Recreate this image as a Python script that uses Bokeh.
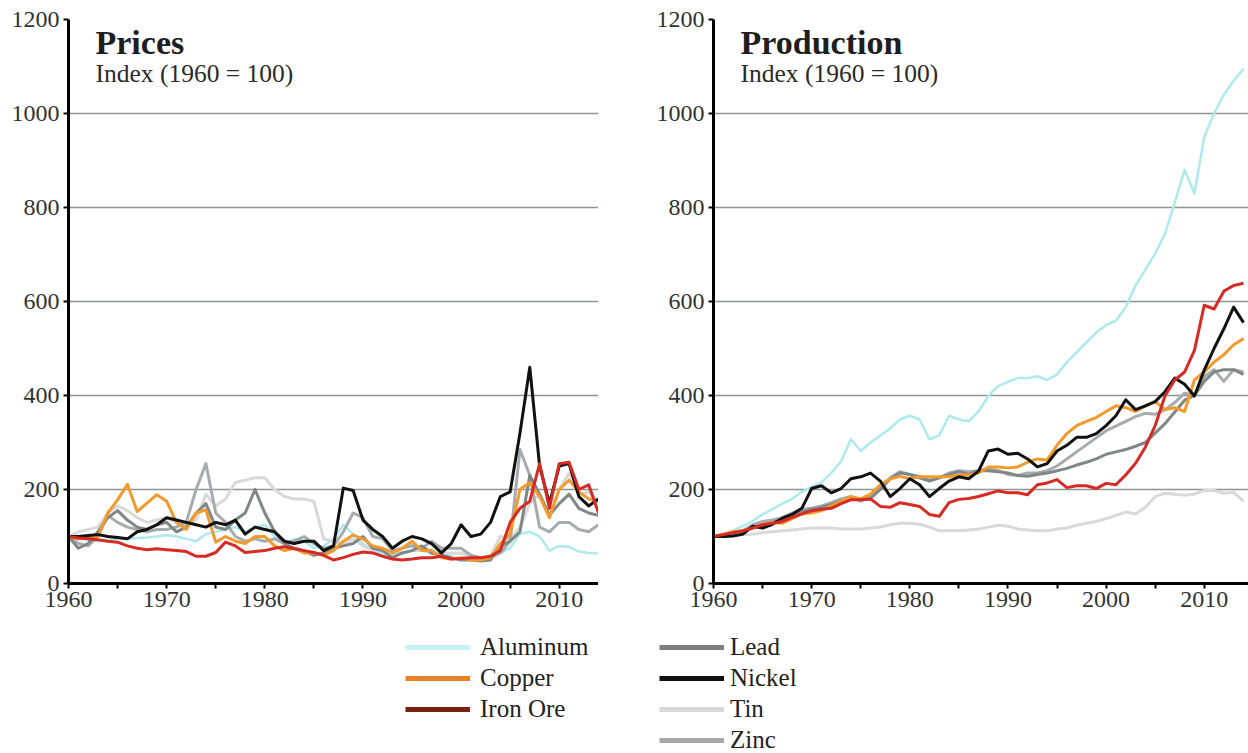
from bokeh.plotting import figure
from bokeh.layouts import column, row
from bokeh.models import Range1d, FixedTicker, Label, Legend, LegendItem
from bokeh.embed import file_html
from bokeh.resources import INLINE

FONT = "Liberation Serif"

years = list(range(1960, 2015))
metals = ["Aluminum", "Copper", "Iron Ore", "Lead", "Nickel", "Tin", "Zinc"]

# ---- Prices, index 1960 = 100 ----
price_aluminum = [100, 95, 93, 90, 92, 95, 95, 97, 98, 100,
                  103, 100, 95, 90, 105, 110, 115, 120, 110, 120,
                  125, 100, 85, 95, 90, 75, 80, 95, 125, 105,
                  85, 70, 65, 60, 75, 85, 70, 72, 60, 62,
                  65, 58, 55, 57, 65, 75, 105, 110, 100, 70,
                  80, 78, 68, 65, 64]
price_copper = [100, 95, 98, 100, 150, 178, 211, 153, 171, 189,
                175, 130, 115, 150, 157, 88, 100, 90, 85, 100,
                100, 80, 70, 75, 65, 65, 60, 70, 90, 103,
                95, 80, 75, 65, 75, 90, 70, 70, 55, 52,
                55, 50, 50, 55, 85, 105, 200, 215, 185, 140,
                200, 220, 195, 180, 175]
price_ironore = [100, 97, 95, 93, 90, 88, 80, 75, 72, 74,
                 72, 70, 68, 58, 58, 66, 88, 80, 66, 68,
                 70, 75, 78, 74, 70, 66, 60, 50, 55, 62,
                 67, 65, 58, 52, 50, 52, 55, 55, 58, 52,
                 53, 55, 55, 58, 70, 130, 160, 175, 255, 160,
                 255, 258, 200, 210, 150]
price_lead = [100, 75, 85, 110, 140, 155, 135, 120, 115, 125,
              130, 110, 120, 150, 170, 120, 115, 135, 150, 200,
              150, 110, 85, 75, 70, 60, 65, 75, 80, 85,
              100, 75, 70, 55, 65, 70, 80, 65, 60, 55,
              50, 50, 48, 50, 80, 90, 110, 230, 190, 145,
              170, 190, 160, 150, 145]
price_nickel = [100, 100, 102, 104, 100, 98, 95, 110, 115, 125,
                140, 135, 130, 125, 120, 130, 125, 135, 105, 120,
                115, 110, 90, 85, 90, 90, 70, 80, 203, 198,
                135, 115, 100, 75, 90, 100, 95, 85, 65, 85,
                125, 100, 105, 130, 185, 195, 320, 460, 250, 170,
                250, 255, 185, 165, 180]
price_tin = [100, 110, 115, 120, 150, 165, 155, 140, 130, 135,
             140, 130, 125, 135, 190, 165, 180, 215, 220, 225,
             225, 200, 185, 180, 180, 175, 95, 90, 85, 95,
             80, 70, 75, 65, 65, 70, 70, 65, 65, 65,
             65, 55, 50, 60, 100, 95, 120, 170, 190, 145,
             200, 235, 190, 195, 175]
price_zinc = [100, 85, 80, 100, 145, 130, 120, 115, 110, 115,
              115, 120, 130, 200, 255, 150, 130, 100, 90, 95,
              90, 95, 85, 90, 100, 85, 75, 80, 110, 150,
              140, 100, 95, 70, 75, 80, 75, 90, 75, 75,
              75, 60, 55, 55, 65, 90, 285, 230, 120, 110,
              130, 130, 115, 110, 125]

# ---- Production, index 1960 = 100 ----
prod_aluminum = [100, 105, 113, 122, 133, 147, 158, 170, 180, 195,
                 206, 215, 235, 260, 307, 282, 300, 315, 330, 349,
                 357, 349, 307, 315, 357, 349, 345, 366, 399, 420,
                 429, 437, 437, 441, 433, 445, 471, 492, 513, 534,
                 550, 559, 588, 634, 668, 702, 744, 811, 880, 830,
                 950, 1000, 1040, 1070, 1095]
prod_copper = [100, 105, 110, 113, 118, 125, 130, 128, 138, 148,
               150, 155, 165, 175, 185, 180, 190, 210, 222, 228,
               223, 227, 227, 227, 227, 231, 231, 235, 248, 248,
               246, 248, 258, 265, 263, 294, 319, 336, 345, 353,
               366, 378, 374, 366, 378, 387, 370, 374, 366, 433,
               450, 471, 487, 508, 521]
prod_ironore = [100, 104, 108, 112, 118, 125, 128, 132, 140, 148,
                155, 158, 160, 170, 178, 178, 180, 164, 162, 172,
                168, 164, 147, 143, 172, 179, 181, 185, 191, 197,
                193, 193, 189, 210, 214, 221, 204, 208, 208, 202,
                213, 210, 231, 256, 290, 336, 399, 433, 450, 496,
                592, 584, 622, 634, 639]
prod_lead = [100, 103, 108, 112, 120, 125, 130, 135, 147, 152,
             158, 162, 168, 175, 181, 178, 181, 200, 223, 235,
             232, 225, 218, 225, 232, 238, 232, 240, 240, 238,
             235, 230, 228, 232, 235, 240, 245, 252, 258, 265,
             275, 280, 285, 292, 300, 320, 340, 365, 390, 400,
             430, 450, 455, 455, 445]
prod_nickel = [100, 100, 101, 105, 122, 118, 126, 139, 147, 160,
               202, 208, 193, 202, 223, 227, 235, 218, 185, 202,
               223, 210, 185, 202, 218, 227, 223, 239, 282, 286,
               275, 277, 265, 248, 255, 282, 294, 311, 311, 319,
               336, 357, 391, 370, 378, 387, 408, 437, 424, 399,
               454, 500, 542, 588, 555]
prod_tin = [100, 100, 102, 104, 105, 108, 110, 112, 114, 116,
            118, 118, 118, 116, 116, 116, 118, 120, 125, 128,
            128, 126, 120, 112, 112, 113, 114, 116, 120, 124,
            122, 116, 114, 112, 112, 116, 118, 124, 128, 132,
            138, 145, 152, 148, 162, 185, 192, 190, 188, 190,
            198, 198, 192, 194, 175]
prod_zinc = [100, 104, 108, 112, 125, 132, 135, 140, 150, 158,
             160, 165, 172, 180, 185, 175, 185, 205, 225, 238,
             232, 228, 220, 225, 235, 240, 238, 240, 245, 240,
             232, 230, 235, 235, 240, 250, 265, 280, 295, 310,
             325, 335, 345, 355, 362, 360, 370, 385, 405, 400,
             440, 455, 430, 455, 450]

y_ticks = [0, 200, 400, 600, 800, 1000, 1200]
x_major = [1960, 1970, 1980, 1990, 2000, 2010]
x_minor = [1965, 1975, 1985, 1995, 2005]

line_colors = {"Aluminum": "#aee9ee", "Copper": "#f39a2d", "Iron Ore": "#d42b25",
               "Lead": "#7f8787", "Nickel": "#111111", "Tin": "#d9d9d9", "Zinc": "#a6acae"}
legend_colors = {"Aluminum": "#c8f2f4", "Copper": "#e9812a", "Iron Ore": "#7a2212",
                 "Lead": "#7f7f7f", "Nickel": "#111111", "Tin": "#d8d8d8", "Zinc": "#a8a8a8"}
draw_order = ["Aluminum", "Tin", "Zinc", "Lead", "Copper", "Nickel", "Iron Ore"]

PX_PER_YEAR = 530 / 54.0


def make_panel(title, series, frame_w, border_left):
    x_end = 1960 + frame_w / PX_PER_YEAR
    p = figure(frame_width=frame_w, frame_height=564,
               x_range=Range1d(1960, x_end), y_range=Range1d(0, 1200),
               output_backend="svg", toolbar_location=None,
               min_border_left=border_left, min_border_right=0,
               min_border_top=19, min_border_bottom=40)
    p.outline_line_color = None
    p.background_fill_color = "white"
    p.xgrid.visible = False
    p.ygrid.grid_line_color = "#8e9393"
    p.ygrid.grid_line_width = 1.5

    p.yaxis.ticker = FixedTicker(ticks=y_ticks)
    p.xaxis.ticker = FixedTicker(ticks=x_major, minor_ticks=x_minor)
    for ax in (p.xaxis, p.yaxis):
        ax.axis_line_color = "black"
        ax.axis_line_width = 3
        ax.major_tick_line_color = "black"
        ax.major_tick_line_width = 2
        ax.major_tick_in = 0
        ax.major_tick_out = 5
        ax.minor_tick_line_color = "black"
        ax.minor_tick_line_width = 2
        ax.minor_tick_in = 0
        ax.minor_tick_out = 5
        ax.major_label_text_font = FONT
        ax.major_label_text_font_size = "24px"
        ax.major_label_text_color = "#333333"
    p.yaxis.major_label_standoff = 4
    p.xaxis.major_label_standoff = 3
    p.yaxis.minor_tick_line_color = None

    for name in draw_order:
        w = 2.5 if name == "Aluminum" else 3
        p.line(years, series[name], line_color=line_colors[name], line_width=w,
               line_join="round")

    p.add_layout(Label(x=27, y=541, x_units="screen", y_units="screen", text=title,
                       text_font=FONT, text_font_size="34px", text_font_style="bold",
                       text_color="#1e1e1e", text_baseline="alphabetic"))
    p.add_layout(Label(x=27, y=510, x_units="screen", y_units="screen",
                       text="Index (1960 = 100)", text_font=FONT,
                       text_font_size="25.5px", text_color="#2a2a2a",
                       text_baseline="alphabetic"))
    return p


prices = dict(zip(metals, [price_aluminum, price_copper, price_ironore, price_lead,
                           price_nickel, price_tin, price_zinc]))
production = dict(zip(metals, [prod_aluminum, prod_copper, prod_ironore, prod_lead,
                               prod_nickel, prod_tin, prod_zinc]))

p1 = make_panel("Prices", prices, 530, 68)
p2 = make_panel("Production", production, 535, 115)

# ---- Legend strip ----
leg = figure(width=1248, height=130, x_range=Range1d(0, 1), y_range=Range1d(0, 1),
             output_backend="svg", toolbar_location=None, min_border=0,
             x_axis_type=None, y_axis_type=None)
leg.outline_line_color = None

nan = float("nan")
renderers = {}
for name in metals:
    renderers[name] = leg.line(x=[nan, nan], y=[nan, nan],
                               line_color=legend_colors[name], line_width=5)


def make_legend(names, loc, standoff):
    return Legend(items=[LegendItem(label=n, renderers=[renderers[n]]) for n in names],
                  location=loc, orientation="vertical",
                  label_text_font=FONT, label_text_font_size="25px",
                  label_text_color="#222222",
                  glyph_width=65, glyph_height=28, label_height=28, spacing=3,
                  padding=0, margin=0, label_standoff=standoff,
                  border_line_color=None, background_fill_alpha=0)


leg.add_layout(make_legend(["Aluminum", "Copper", "Iron Ore"], (405, 30), 10))
leg.add_layout(make_legend(["Lead", "Nickel", "Tin", "Zinc"], (659, -1), 6))

layout = column(row(p1, p2), leg)
open("out.html", "w").write(file_html(layout, INLINE))
